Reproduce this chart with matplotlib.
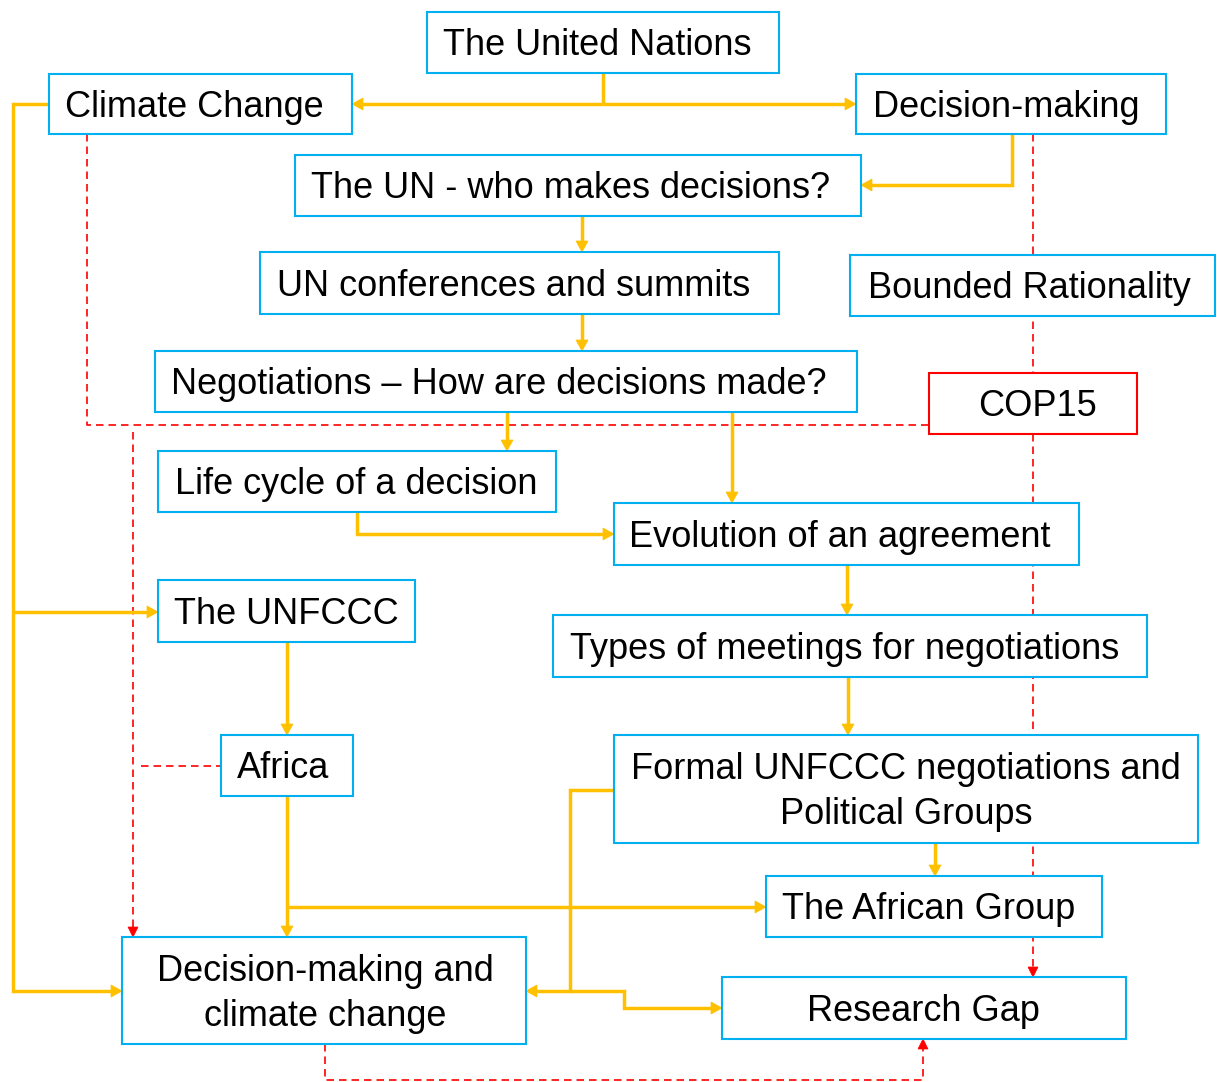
import matplotlib
matplotlib.use("Agg")
import matplotlib.pyplot as plt
from matplotlib.patches import Rectangle, Polygon

# ---- content -------------------------------------------------------------
box_keys = ["un", "cc", "dm", "who", "conf", "br", "neg", "cop", "life", "evo",
            "unfccc", "types", "africa", "formal", "ag", "dmcc", "gap"]
box_labels = ["The United Nations", "Climate Change", "Decision-making",
              "The UN - who makes decisions?", "UN conferences and summits",
              "Bounded Rationality", "Negotiations \u2013 How are decisions made?",
              "COP15", "Life cycle of a decision", "Evolution of an agreement",
              "The UNFCCC", "Types of meetings for negotiations", "Africa",
              "Formal UNFCCC negotiations and\nPolitical Groups",
              "The African Group", "Decision-making and\nclimate change",
              "Research Gap"]

# ---- layout (pixel space of the 1217x1082 canvas) -------------------------
box_geom = {
    "un": (427, 12, 779, 73),
    "cc": (49, 74, 352, 134),
    "dm": (856, 74, 1166, 134),
    "who": (295, 155, 861, 216),
    "conf": (260, 252, 779, 314),
    "br": (850, 255, 1215, 316),
    "neg": (155, 351, 857, 412),
    "cop": (929, 373, 1137, 434),
    "life": (158, 451, 556, 512),
    "evo": (614, 503, 1079, 565),
    "unfccc": (158, 580, 415, 642),
    "types": (553, 615, 1147, 677),
    "africa": (221, 735, 353, 796),
    "formal": (614, 735, 1198, 843),
    "ag": (766, 876, 1102, 937),
    "dmcc": (122, 937, 526, 1044),
    "gap": (722, 977, 1126, 1039),
}
text_cx = {"un": 597, "cc": 194, "dm": 1006, "who": 571, "conf": 514, "br": 1029,
           "neg": 499, "cop": 1038, "life": 356, "evo": 840, "unfccc": 286,
           "types": 845, "africa": 283, "formal": 906, "ag": 929, "dmcc": 325,
           "gap": 923}

BLUE = "#00B0F0"
ORANGE = "#FFC000"
RED = "#FF0000"

W, H = 1217, 1082
fig = plt.figure(figsize=(W / 100, H / 100), dpi=100)
ax = fig.add_axes([0, 0, 1, 1])
ax.set_xlim(0, W)
ax.set_ylim(H, 0)
ax.axis("off")


def B(k):
    return box_geom[k]


def head(p_from, p_to, color, L, hw, z):
    dx, dy = p_to[0] - p_from[0], p_to[1] - p_from[1]
    n = (dx ** 2 + dy ** 2) ** 0.5
    ux, uy = dx / n, dy / n
    bx, by = p_to[0] - ux * L, p_to[1] - uy * L
    px, py = -uy, ux
    tri = [(p_to[0], p_to[1]), (bx + px * hw, by + py * hw), (bx - px * hw, by - py * hw)]
    ax.add_patch(Polygon(tri, closed=True, facecolor=color, edgecolor=color,
                         lw=0.5, zorder=z))
    return (bx + ux * 1.5, by + uy * 1.5)


def connector(pts, color, lw, arrow=True, dashed=False, z=1.5, L=11, hw=6):
    pts = list(pts)
    if arrow:
        new_end = head(pts[-2], pts[-1], color, L, hw, z)
        pts = pts[:-1] + [new_end]
    xs = [p[0] for p in pts]
    ys = [p[1] for p in pts]
    kw = dict(color=color, lw=lw, zorder=z, solid_capstyle="butt",
              solid_joinstyle="miter")
    if dashed:
        kw["linestyle"] = (0, (4.5, 3))
        kw["dash_capstyle"] = "butt"
    ax.plot(xs, ys, **kw)


# ---- orange flow -----------------------------------------------------------
OLW = 2.5
un = B("un"); cc = B("cc"); dm = B("dm"); who = B("who"); conf = B("conf")
neg = B("neg"); life = B("life"); evo = B("evo"); types = B("types")
formal = B("formal"); ag = B("ag"); unf = B("unfccc"); afr = B("africa")
dmcc = B("dmcc"); gap = B("gap"); cop = B("cop")

yc = (cc[1] + cc[3]) / 2
connector([(603, un[3]), (603, yc)], ORANGE, OLW, arrow=False)
connector([(603, yc), (cc[2], yc)], ORANGE, OLW)
connector([(603, yc), (dm[0], yc)], ORANGE, OLW)
connector([(1012, dm[3]), (1012, 185), (who[2], 185)], ORANGE, OLW)
connector([(582, who[3]), (582, conf[1])], ORANGE, OLW)
connector([(582, conf[3]), (582, neg[1])], ORANGE, OLW)
connector([(507, neg[3]), (507, life[1])], ORANGE, OLW)
connector([(732, neg[3]), (732, evo[1])], ORANGE, OLW)
connector([(357, life[3]), (357, 534), (evo[0], 534)], ORANGE, OLW)
connector([(847, evo[3]), (847, types[1])], ORANGE, OLW)
connector([(848, types[3]), (848, formal[1])], ORANGE, OLW)
connector([(935, formal[3]), (935, ag[1])], ORANGE, OLW)
connector([(287, unf[3]), (287, afr[1])], ORANGE, OLW)
connector([(287, afr[3]), (287, dmcc[1])], ORANGE, OLW)
connector([(287, 907), (ag[0], 907)], ORANGE, OLW)
connector([(cc[0], yc), (13, yc), (13, 991), (dmcc[0], 991)], ORANGE, OLW)
connector([(13, 612), (unf[0], 612)], ORANGE, OLW)
connector([(formal[0], 790), (570, 790), (570, 991), (dmcc[2], 991)], ORANGE, OLW)
connector([(570, 991), (624, 991), (624, 1008), (gap[0], 1008)], ORANGE, OLW)

# ---- red dashed links -------------------------------------------------------
RLW = 1.2
connector([(87, cc[3]), (87, 425), (cop[0], 425)], RED, RLW, arrow=False,
          dashed=True, z=1.2)
connector([(133, 432), (133, dmcc[1])], RED, RLW, dashed=True, z=1.2, L=10, hw=5)
connector([(141, 766), (afr[0], 766)], RED, RLW, arrow=False, dashed=True, z=1.2)
connector([(1033, dm[3]), (1033, gap[1])], RED, RLW, dashed=True, z=1.2, L=10, hw=5)
connector([(325, dmcc[3]), (325, 1080), (923, 1080), (923, gap[3])], RED, RLW,
          dashed=True, z=1.2, L=10, hw=5)

# ---- boxes and labels ------------------------------------------------------
FS = 26
CAP = 0.716 * FS * 100 / 72
for key, label in zip(box_keys, box_labels):
    x0, y0, x1, y1 = box_geom[key]
    ec = RED if key == "cop" else BLUE
    ax.add_patch(Rectangle((x0, y0), x1 - x0, y1 - y0, facecolor="white",
                           edgecolor=ec, lw=1.5, zorder=2))
    lines = label.split("\n")
    cy = (y0 + y1) / 2
    gapy = 45
    start = cy - gapy * (len(lines) - 1) / 2
    for i, ln in enumerate(lines):
        ax.text(text_cx[key], start + i * gapy + CAP / 2, ln, ha="center",
                va="baseline", fontsize=FS, family=["Liberation Sans", "DejaVu Sans"],
                color="black", zorder=3)

fig.savefig("out.png", dpi=100, facecolor="white")
